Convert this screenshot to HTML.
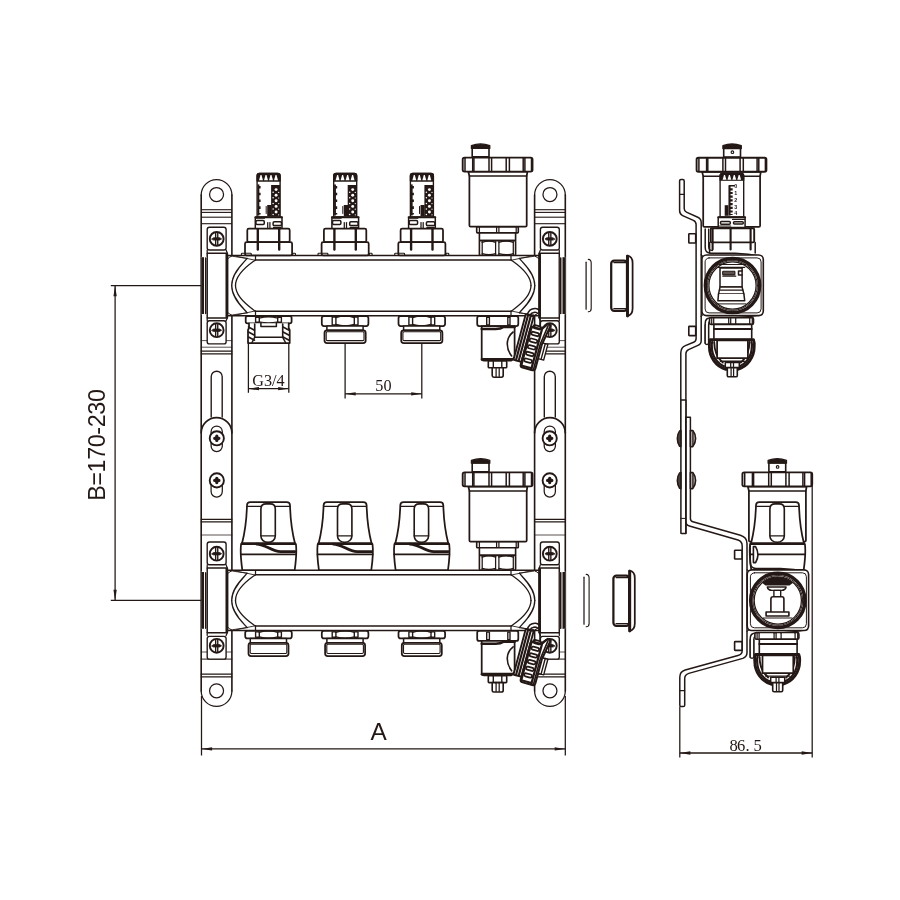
<!DOCTYPE html>
<html lang="en">
<head>
<meta charset="utf-8">
<title>Manifold dimensions</title>
<style>
html,body{margin:0;padding:0;background:#fff;}
body{width:900px;height:900px;overflow:hidden;}
svg{display:block;will-change:transform;-webkit-font-smoothing:antialiased;}
svg text{fill:#231815;stroke:none;}
.sans{font-family:"Liberation Sans",sans-serif;}
.serif{font-family:"Liberation Serif",serif;}
</style>
</head>
<body>
<svg width="900" height="900" viewBox="0 0 900 900" fill="none" stroke="#231815" stroke-width="1.5" stroke-linecap="round" stroke-linejoin="round">
<rect x="0" y="0" width="900" height="900" fill="#fff" stroke="none"/>
<path d="M201.2,195 A15.35,15.35 0 0 1 231.9,195" stroke-width="1.25"/>
<path d="M201.2,691 A15.35,15.35 0 0 0 231.9,691" stroke-width="1.25"/>
<line x1="201.2" y1="195" x2="201.2" y2="691" stroke-width="1.62"/>
<line x1="231.9" y1="195" x2="231.9" y2="691" stroke-width="1.62"/>
<circle cx="216.55" cy="194.5" r="7" stroke-width="1.25"/>
<circle cx="216.55" cy="690.8" r="7" stroke-width="1.25"/>
<line x1="201.2" y1="209.7" x2="231.9" y2="209.7" stroke-width="1.12" stroke-linecap="butt"/>
<line x1="201.2" y1="212.4" x2="231.9" y2="212.4" stroke-width="1.12" stroke-linecap="butt"/>
<line x1="201.2" y1="217.2" x2="231.9" y2="217.2" stroke-width="1.12" stroke-linecap="butt"/>
<line x1="201.2" y1="223.7" x2="231.9" y2="223.7" stroke-width="1.12" stroke-linecap="butt"/>
<line x1="201.2" y1="340.6" x2="231.9" y2="340.6" stroke-width="0.75"/>
<line x1="201.2" y1="347.2" x2="231.9" y2="347.2" stroke-width="0.75"/>
<line x1="201.2" y1="351.1" x2="231.9" y2="351.1" stroke-width="1.25"/>
<line x1="201.2" y1="353.9" x2="231.9" y2="353.9" stroke-width="1.25"/>
<path d="M211.2,417 V376.7 A5.5,5.5 0 0 1 222.2,376.7 V417" stroke-width="1.38"/>
<path d="M201.2,433 A15.35,15.35 0 0 1 231.9,433" stroke-width="1.62"/>
<path d="M211.1,431.6 A5.6,5.6 0 0 1 222.3,431.6 V446.1 A5.6,5.6 0 0 1 211.1,446.1 Z" stroke-width="1.25"/>
<circle cx="216.8" cy="438.3" r="7.1" stroke-width="1.88" fill="#fff"/>
<path d="M214.7,438.3 H218.9 M216.8,436.2 V440.4" stroke-width="3.25"/>
<path d="M211.1,480.4 A5.6,5.6 0 0 1 222.3,480.4 V491.6 A5.6,5.6 0 0 1 211.1,491.6 Z" stroke-width="1.25"/>
<circle cx="216.8" cy="480.4" r="7.1" stroke-width="1.88" fill="#fff"/>
<path d="M214.7,480.4 H218.9 M216.8,478.3 V482.5" stroke-width="3.25"/>
<line x1="201.2" y1="519.3" x2="231.9" y2="519.3" stroke-width="1.25"/>
<line x1="201.2" y1="521.9" x2="231.9" y2="521.9" stroke-width="1.25"/>
<line x1="201.2" y1="535" x2="231.9" y2="535" stroke-width="0.75"/>
<line x1="201.2" y1="652" x2="231.9" y2="652" stroke-width="0.75"/>
<line x1="201.2" y1="659.1" x2="231.9" y2="659.1" stroke-width="1"/>
<line x1="201.2" y1="674.2" x2="231.9" y2="674.2" stroke-width="1.25"/>
<line x1="201.2" y1="676.9" x2="231.9" y2="676.9" stroke-width="1.25"/>
<g transform="translate(766.5,0) scale(-1,1)">
<path d="M201.2,195 A15.35,15.35 0 0 1 231.9,195" stroke-width="1.25"/>
<path d="M201.2,691 A15.35,15.35 0 0 0 231.9,691" stroke-width="1.25"/>
<line x1="201.2" y1="195" x2="201.2" y2="691" stroke-width="1.62"/>
<line x1="231.9" y1="195" x2="231.9" y2="691" stroke-width="1.62"/>
<circle cx="216.55" cy="194.5" r="7" stroke-width="1.25"/>
<circle cx="216.55" cy="690.8" r="7" stroke-width="1.25"/>
<line x1="201.2" y1="209.7" x2="231.9" y2="209.7" stroke-width="1.12" stroke-linecap="butt"/>
<line x1="201.2" y1="212.4" x2="231.9" y2="212.4" stroke-width="1.12" stroke-linecap="butt"/>
<line x1="201.2" y1="217.2" x2="231.9" y2="217.2" stroke-width="1.12" stroke-linecap="butt"/>
<line x1="201.2" y1="223.7" x2="231.9" y2="223.7" stroke-width="1.12" stroke-linecap="butt"/>
<line x1="201.2" y1="340.6" x2="231.9" y2="340.6" stroke-width="0.75"/>
<line x1="201.2" y1="347.2" x2="231.9" y2="347.2" stroke-width="0.75"/>
<line x1="201.2" y1="351.1" x2="231.9" y2="351.1" stroke-width="1.25"/>
<line x1="201.2" y1="353.9" x2="231.9" y2="353.9" stroke-width="1.25"/>
<path d="M211.2,417 V376.7 A5.5,5.5 0 0 1 222.2,376.7 V417" stroke-width="1.38"/>
<path d="M201.2,433 A15.35,15.35 0 0 1 231.9,433" stroke-width="1.62"/>
<path d="M211.1,431.6 A5.6,5.6 0 0 1 222.3,431.6 V446.1 A5.6,5.6 0 0 1 211.1,446.1 Z" stroke-width="1.25"/>
<circle cx="216.8" cy="438.3" r="7.1" stroke-width="1.88" fill="#fff"/>
<path d="M214.7,438.3 H218.9 M216.8,436.2 V440.4" stroke-width="3.25"/>
<path d="M211.1,480.4 A5.6,5.6 0 0 1 222.3,480.4 V491.6 A5.6,5.6 0 0 1 211.1,491.6 Z" stroke-width="1.25"/>
<circle cx="216.8" cy="480.4" r="7.1" stroke-width="1.88" fill="#fff"/>
<path d="M214.7,480.4 H218.9 M216.8,478.3 V482.5" stroke-width="3.25"/>
<line x1="201.2" y1="519.3" x2="231.9" y2="519.3" stroke-width="1.25"/>
<line x1="201.2" y1="521.9" x2="231.9" y2="521.9" stroke-width="1.25"/>
<line x1="201.2" y1="535" x2="231.9" y2="535" stroke-width="0.75"/>
<line x1="201.2" y1="652" x2="231.9" y2="652" stroke-width="0.75"/>
<line x1="201.2" y1="659.1" x2="231.9" y2="659.1" stroke-width="1"/>
<line x1="201.2" y1="674.2" x2="231.9" y2="674.2" stroke-width="1.25"/>
<line x1="201.2" y1="676.9" x2="231.9" y2="676.9" stroke-width="1.25"/>
</g>
<path d="M227.5,255.5 H539.5 V315.7 H227.5 Z" stroke-width="1.62" fill="#fff"/>
<line x1="255.5" y1="260" x2="511" y2="260" stroke-width="1.5"/>
<line x1="255.5" y1="311.2" x2="511" y2="311.2" stroke-width="1.5"/>
<line x1="255.5" y1="255.5" x2="255.5" y2="260" stroke-width="1.25"/>
<line x1="255.5" y1="311.2" x2="255.5" y2="315.7" stroke-width="1.25"/>
<line x1="511" y1="255.5" x2="511" y2="260" stroke-width="1.25"/>
<line x1="511" y1="311.2" x2="511" y2="315.7" stroke-width="1.25"/>
<path d="M247.1,312.8 C244,308.6 231.7,298.7 231.7,285.6" stroke-width="1.31"/>
<path d="M255.1,311 C250.5,307.6 235.5,298.2 235.5,285.6" stroke-width="1.31"/>
<path d="M232.6,314.9 L247.1,312.8" stroke-width="0.88"/>
<path d="M236,315 L255.1,311" stroke-width="0.88"/>
<path d="M228,312.6 Q229,314.4 231.6,315" stroke-width="1"/>
<path d="M247.1,258.4 C244,262.6 231.7,272.5 231.7,285.6" stroke-width="1.31"/>
<path d="M255.1,260.2 C250.5,263.6 235.5,273 235.5,285.6" stroke-width="1.31"/>
<path d="M232.6,256.3 L247.1,258.4" stroke-width="0.88"/>
<path d="M236,256.2 L255.1,260.2" stroke-width="0.88"/>
<path d="M228,258.6 Q229,256.8 231.6,256.2" stroke-width="1"/>
<g transform="translate(766.5,0) scale(-1,1)">
<path d="M247.1,312.8 C244,308.6 231.7,298.7 231.7,285.6" stroke-width="1.31"/>
<path d="M255.1,311 C250.5,307.6 235.5,298.2 235.5,285.6" stroke-width="1.31"/>
<path d="M232.6,314.9 L247.1,312.8" stroke-width="0.88"/>
<path d="M236,315 L255.1,311" stroke-width="0.88"/>
<path d="M228,312.6 Q229,314.4 231.6,315" stroke-width="1"/>
<path d="M247.1,258.4 C244,262.6 231.7,272.5 231.7,285.6" stroke-width="1.31"/>
<path d="M255.1,260.2 C250.5,263.6 235.5,273 235.5,285.6" stroke-width="1.31"/>
<path d="M232.6,256.3 L247.1,258.4" stroke-width="0.88"/>
<path d="M236,256.2 L255.1,260.2" stroke-width="0.88"/>
<path d="M228,258.6 Q229,256.8 231.6,256.2" stroke-width="1"/>
</g>
<path d="M227.5,570.3 H539.5 V630.5 H227.5 Z" stroke-width="1.62" fill="#fff"/>
<line x1="255.5" y1="574.8" x2="511" y2="574.8" stroke-width="1.5"/>
<line x1="255.5" y1="626" x2="511" y2="626" stroke-width="1.5"/>
<line x1="255.5" y1="570.3" x2="255.5" y2="574.8" stroke-width="1.25"/>
<line x1="255.5" y1="626" x2="255.5" y2="630.5" stroke-width="1.25"/>
<line x1="511" y1="570.3" x2="511" y2="574.8" stroke-width="1.25"/>
<line x1="511" y1="626" x2="511" y2="630.5" stroke-width="1.25"/>
<path d="M247.1,627.6 C244,623.4 231.7,613.5 231.7,600.4" stroke-width="1.31"/>
<path d="M255.1,625.8 C250.5,622.4 235.5,613 235.5,600.4" stroke-width="1.31"/>
<path d="M232.6,629.7 L247.1,627.6" stroke-width="0.88"/>
<path d="M236,629.8 L255.1,625.8" stroke-width="0.88"/>
<path d="M228,627.4 Q229,629.2 231.6,629.8" stroke-width="1"/>
<path d="M247.1,573.2 C244,577.4 231.7,587.3 231.7,600.4" stroke-width="1.31"/>
<path d="M255.1,575 C250.5,578.4 235.5,587.8 235.5,600.4" stroke-width="1.31"/>
<path d="M232.6,571.1 L247.1,573.2" stroke-width="0.88"/>
<path d="M236,571 L255.1,575" stroke-width="0.88"/>
<path d="M228,573.4 Q229,571.6 231.6,571" stroke-width="1"/>
<g transform="translate(766.5,0) scale(-1,1)">
<path d="M247.1,627.6 C244,623.4 231.7,613.5 231.7,600.4" stroke-width="1.31"/>
<path d="M255.1,625.8 C250.5,622.4 235.5,613 235.5,600.4" stroke-width="1.31"/>
<path d="M232.6,629.7 L247.1,627.6" stroke-width="0.88"/>
<path d="M236,629.8 L255.1,625.8" stroke-width="0.88"/>
<path d="M228,627.4 Q229,629.2 231.6,629.8" stroke-width="1"/>
<path d="M247.1,573.2 C244,577.4 231.7,587.3 231.7,600.4" stroke-width="1.31"/>
<path d="M255.1,575 C250.5,578.4 235.5,587.8 235.5,600.4" stroke-width="1.31"/>
<path d="M232.6,571.1 L247.1,573.2" stroke-width="0.88"/>
<path d="M236,571 L255.1,575" stroke-width="0.88"/>
<path d="M228,573.4 Q229,571.6 231.6,571" stroke-width="1"/>
</g>
<rect x="207.2" y="227.2" width="18.9" height="22.8" rx="2.2" stroke-width="1.38" fill="#fff"/>
<rect x="207.2" y="320.8" width="18.9" height="23.1" rx="2.2" stroke-width="1.38" fill="#fff"/>
<circle cx="216.7" cy="238.9" r="6.9" stroke-width="1.94" fill="#fff"/>
<path d="M211.8,238.9 L213.7,237.7 H219.7 L221.6,238.9 L219.7,240.1 H213.7 Z" stroke-width="0.75" fill="#231815"/>
<line x1="215.65" y1="232.7" x2="215.65" y2="245.1" stroke-width="1.38"/>
<line x1="217.75" y1="232.7" x2="217.75" y2="245.1" stroke-width="1.38"/>
<circle cx="216.7" cy="330.2" r="6.9" stroke-width="1.94" fill="#fff"/>
<path d="M211.8,330.2 L213.7,329 H219.7 L221.6,330.2 L219.7,331.4 H213.7 Z" stroke-width="0.75" fill="#231815"/>
<line x1="215.65" y1="324" x2="215.65" y2="336.4" stroke-width="1.38"/>
<line x1="217.75" y1="324" x2="217.75" y2="336.4" stroke-width="1.38"/>
<rect x="207.2" y="253.3" width="20.1" height="64.6" stroke-width="1.5" fill="#fff"/>
<line x1="226.8" y1="253.3" x2="226.8" y2="317.9" stroke-width="2.62" stroke-linecap="butt"/>
<line x1="207.2" y1="250" x2="207.2" y2="253.3" stroke-width="1.25"/>
<line x1="226.1" y1="250" x2="227.3" y2="253.3" stroke-width="1.25"/>
<line x1="207.2" y1="317.9" x2="207.2" y2="320.8" stroke-width="1.25"/>
<line x1="227.3" y1="317.9" x2="226.1" y2="320.8" stroke-width="1.25"/>
<rect x="201.2" y="256.9" width="5.4" height="57.4" stroke-width="0.01" fill="#fff"/>
<line x1="202.6" y1="257.2" x2="202.6" y2="314" stroke-width="2.88" stroke-linecap="butt"/>
<line x1="205.8" y1="258" x2="205.8" y2="313.4" stroke-width="1.62"/>
<rect x="207.2" y="542" width="18.9" height="22.8" rx="2.2" stroke-width="1.38" fill="#fff"/>
<rect x="207.2" y="636.4" width="18.9" height="22.7" rx="2.2" stroke-width="1.38" fill="#fff"/>
<circle cx="216.7" cy="553.7" r="6.9" stroke-width="1.94" fill="#fff"/>
<path d="M211.8,553.7 L213.7,552.5 H219.7 L221.6,553.7 L219.7,554.9 H213.7 Z" stroke-width="0.75" fill="#231815"/>
<line x1="215.65" y1="547.5" x2="215.65" y2="559.9" stroke-width="1.38"/>
<line x1="217.75" y1="547.5" x2="217.75" y2="559.9" stroke-width="1.38"/>
<circle cx="216.7" cy="645.8" r="6.9" stroke-width="1.94" fill="#fff"/>
<path d="M211.8,645.8 L213.7,644.6 H219.7 L221.6,645.8 L219.7,647 H213.7 Z" stroke-width="0.75" fill="#231815"/>
<line x1="215.65" y1="639.6" x2="215.65" y2="652" stroke-width="1.38"/>
<line x1="217.75" y1="639.6" x2="217.75" y2="652" stroke-width="1.38"/>
<rect x="207.2" y="568.1" width="20.1" height="64.6" stroke-width="1.5" fill="#fff"/>
<line x1="226.8" y1="568.1" x2="226.8" y2="632.7" stroke-width="2.62" stroke-linecap="butt"/>
<line x1="207.2" y1="564.8" x2="207.2" y2="568.1" stroke-width="1.25"/>
<line x1="226.1" y1="564.8" x2="227.3" y2="568.1" stroke-width="1.25"/>
<line x1="207.2" y1="632.7" x2="207.2" y2="635.6" stroke-width="1.25"/>
<line x1="227.3" y1="632.7" x2="226.1" y2="635.6" stroke-width="1.25"/>
<rect x="201.2" y="571.7" width="5.4" height="57.4" stroke-width="0.01" fill="#fff"/>
<line x1="202.6" y1="572" x2="202.6" y2="628.8" stroke-width="2.88" stroke-linecap="butt"/>
<line x1="205.8" y1="572.8" x2="205.8" y2="628.2" stroke-width="1.62"/>
<g transform="translate(766.5,0) scale(-1,1)">
<rect x="207.2" y="227.2" width="18.9" height="22.8" rx="2.2" stroke-width="1.38" fill="#fff"/>
<rect x="207.2" y="320.8" width="18.9" height="23.1" rx="2.2" stroke-width="1.38" fill="#fff"/>
<circle cx="216.7" cy="238.9" r="6.9" stroke-width="1.94" fill="#fff"/>
<path d="M211.8,238.9 L213.7,237.7 H219.7 L221.6,238.9 L219.7,240.1 H213.7 Z" stroke-width="0.75" fill="#231815"/>
<line x1="215.65" y1="232.7" x2="215.65" y2="245.1" stroke-width="1.38"/>
<line x1="217.75" y1="232.7" x2="217.75" y2="245.1" stroke-width="1.38"/>
<circle cx="216.7" cy="330.2" r="6.9" stroke-width="1.94" fill="#fff"/>
<path d="M211.8,330.2 L213.7,329 H219.7 L221.6,330.2 L219.7,331.4 H213.7 Z" stroke-width="0.75" fill="#231815"/>
<line x1="215.65" y1="324" x2="215.65" y2="336.4" stroke-width="1.38"/>
<line x1="217.75" y1="324" x2="217.75" y2="336.4" stroke-width="1.38"/>
<rect x="207.2" y="253.3" width="20.1" height="64.6" stroke-width="1.5" fill="#fff"/>
<line x1="226.8" y1="253.3" x2="226.8" y2="317.9" stroke-width="2.62" stroke-linecap="butt"/>
<line x1="207.2" y1="250" x2="207.2" y2="253.3" stroke-width="1.25"/>
<line x1="226.1" y1="250" x2="227.3" y2="253.3" stroke-width="1.25"/>
<line x1="207.2" y1="317.9" x2="207.2" y2="320.8" stroke-width="1.25"/>
<line x1="227.3" y1="317.9" x2="226.1" y2="320.8" stroke-width="1.25"/>
<rect x="201.2" y="256.9" width="5.4" height="57.4" stroke-width="0.01" fill="#fff"/>
<line x1="202.6" y1="257.2" x2="202.6" y2="314" stroke-width="2.88" stroke-linecap="butt"/>
<line x1="205.8" y1="258" x2="205.8" y2="313.4" stroke-width="1.62"/>
<rect x="207.2" y="542" width="18.9" height="22.8" rx="2.2" stroke-width="1.38" fill="#fff"/>
<rect x="207.2" y="636.4" width="18.9" height="22.7" rx="2.2" stroke-width="1.38" fill="#fff"/>
<circle cx="216.7" cy="553.7" r="6.9" stroke-width="1.94" fill="#fff"/>
<path d="M211.8,553.7 L213.7,552.5 H219.7 L221.6,553.7 L219.7,554.9 H213.7 Z" stroke-width="0.75" fill="#231815"/>
<line x1="215.65" y1="547.5" x2="215.65" y2="559.9" stroke-width="1.38"/>
<line x1="217.75" y1="547.5" x2="217.75" y2="559.9" stroke-width="1.38"/>
<circle cx="216.7" cy="645.8" r="6.9" stroke-width="1.94" fill="#fff"/>
<path d="M211.8,645.8 L213.7,644.6 H219.7 L221.6,645.8 L219.7,647 H213.7 Z" stroke-width="0.75" fill="#231815"/>
<line x1="215.65" y1="639.6" x2="215.65" y2="652" stroke-width="1.38"/>
<line x1="217.75" y1="639.6" x2="217.75" y2="652" stroke-width="1.38"/>
<rect x="207.2" y="568.1" width="20.1" height="64.6" stroke-width="1.5" fill="#fff"/>
<line x1="226.8" y1="568.1" x2="226.8" y2="632.7" stroke-width="2.62" stroke-linecap="butt"/>
<line x1="207.2" y1="564.8" x2="207.2" y2="568.1" stroke-width="1.25"/>
<line x1="226.1" y1="564.8" x2="227.3" y2="568.1" stroke-width="1.25"/>
<line x1="207.2" y1="632.7" x2="207.2" y2="635.6" stroke-width="1.25"/>
<line x1="227.3" y1="632.7" x2="226.1" y2="635.6" stroke-width="1.25"/>
<rect x="201.2" y="571.7" width="5.4" height="57.4" stroke-width="0.01" fill="#fff"/>
<line x1="202.6" y1="572" x2="202.6" y2="628.8" stroke-width="2.88" stroke-linecap="butt"/>
<line x1="205.8" y1="572.8" x2="205.8" y2="628.2" stroke-width="1.62"/>
</g>
<path d="M257.1,216.3 V175.9 Q257.1,173.4 259.6,173.4 H277.6 Q280.1,173.4 280.1,175.9 V216.3" stroke-width="1.38" fill="#fff"/>
<path d="M257.1,181 V175.9 Q257.1,173.4 259.6,173.4 H277.6 Q280.1,173.4 280.1,175.9 V181 Z" stroke-width="1.25" fill="#231815"/>
<path d="M259.05,180.3 L260.5,175 H261.5 L262.95,180.3 Z" fill="#fff" stroke="none"/>
<path d="M264.05,180.3 L265.5,175 H266.5 L267.95,180.3 Z" fill="#fff" stroke="none"/>
<path d="M269.05,180.3 L270.5,175 H271.5 L272.95,180.3 Z" fill="#fff" stroke="none"/>
<path d="M274.05,180.3 L275.5,175 H276.5 L277.95,180.3 Z" fill="#fff" stroke="none"/>
<line x1="258.4" y1="184.4" x2="258.4" y2="215.5" stroke-width="1.88" stroke-linecap="butt"/>
<line x1="259.6" y1="185.9" x2="259.6" y2="214.5" stroke-width="2" stroke-dasharray="2.6 4.2" stroke-linecap="butt"/>
<rect x="271.1" y="185" width="9" height="31.3" fill="#231815" stroke="none"/>
<circle cx="276.1" cy="189.6" r="1.45" fill="#fff" stroke="none"/>
<circle cx="273.1" cy="192.2" r="0.75" fill="#fff" stroke="none"/>
<circle cx="278.7" cy="192.4" r="0.6" fill="#fff" stroke="none"/>
<circle cx="276.1" cy="195.2" r="1.45" fill="#fff" stroke="none"/>
<circle cx="273.1" cy="197.8" r="0.75" fill="#fff" stroke="none"/>
<circle cx="278.7" cy="198" r="0.6" fill="#fff" stroke="none"/>
<circle cx="276.1" cy="200.8" r="1.45" fill="#fff" stroke="none"/>
<circle cx="273.1" cy="203.4" r="0.75" fill="#fff" stroke="none"/>
<circle cx="278.7" cy="203.6" r="0.6" fill="#fff" stroke="none"/>
<circle cx="276.1" cy="206.4" r="1.45" fill="#fff" stroke="none"/>
<circle cx="273.1" cy="209" r="0.75" fill="#fff" stroke="none"/>
<circle cx="278.7" cy="209.2" r="0.6" fill="#fff" stroke="none"/>
<circle cx="276.1" cy="212" r="1.45" fill="#fff" stroke="none"/>
<circle cx="273.1" cy="214.6" r="0.75" fill="#fff" stroke="none"/>
<circle cx="278.7" cy="214.8" r="0.6" fill="#fff" stroke="none"/>
<rect x="267.2" y="205" width="4.2" height="11" fill="#231815" stroke="none"/>
<line x1="266.2" y1="206.5" x2="266.2" y2="213.5" stroke-width="1"/>
<rect x="255.3" y="216.9" width="26.7" height="12.5" rx="1.4" stroke-width="1.5" fill="#fff"/>
<line x1="255.3" y1="217.2" x2="282" y2="217.2" stroke-width="2"/>
<rect x="255.9" y="220.6" width="8.4" height="3.8" rx="1.2" stroke-width="1.5"/>
<rect x="273.1" y="221.8" width="8.4" height="3.8" rx="1.2" stroke-width="1.5"/>
<line x1="256" y1="218.3" x2="264.5" y2="218.3" stroke-width="1.12"/>
<line x1="273.5" y1="227.4" x2="281" y2="227.4" stroke-width="1.12"/>
<line x1="267.7" y1="222.5" x2="267.7" y2="229" stroke-width="1.25"/>
<line x1="269.9" y1="222.5" x2="269.9" y2="229" stroke-width="1.25"/>
<rect x="247.3" y="228.6" width="42.4" height="13.6" rx="1.6" stroke-width="1.75" fill="#fff"/>
<rect x="245" y="242.2" width="47.1" height="13.1" rx="1.6" stroke-width="1.75" fill="#fff"/>
<line x1="257.8" y1="229.3" x2="257.8" y2="249.5" stroke-width="2.38"/>
<line x1="279.2" y1="229.3" x2="279.2" y2="249.5" stroke-width="2.38"/>
<rect x="241.4" y="253.2" width="9.9" height="2.3" rx="0.8" stroke-width="1.12"/>
<rect x="292.7" y="253.3" width="2.8" height="2.2" rx="0.8" stroke-width="1.12"/>
<path d="M241.9,544 C245,532 246.7,516 247,505.2 Q247.1,502 250.3,502 H286.7 Q289.9,502 290,505.2 C290.3,516 292,532 295.1,544 Z" stroke-width="1.75" fill="#fff"/>
<line x1="247.2" y1="506.4" x2="289.8" y2="506.4" stroke-width="1.25"/>
<path d="M241.1,544 C240.3,550 240.9,560 242.3,570 H294.7 C296.1,560 296.7,550 295.9,544 Z" stroke-width="1.75" fill="#fff"/>
<line x1="241.9" y1="543.4" x2="294.9" y2="543.4" stroke-width="2.5"/>
<line x1="240.9" y1="554.4" x2="296.1" y2="554.4" stroke-width="1.62"/>
<path d="M256.5,544 C265.5,544 271.5,551.6 280.5,551.6 H295.1" stroke-width="2.75"/>
<path d="M260.9,509 Q260.9,503.9 266.1,503.9 H270.3 Q275.3,503.9 275.3,509 V536 A7.2,6.4 0 0 1 260.9,536 Z" stroke-width="1.62" fill="#fff"/>
<line x1="260.9" y1="535.8" x2="275.3" y2="535.8" stroke-width="1.25"/>
<path d="M333.7,216.3 V175.9 Q333.7,173.4 336.2,173.4 H354.2 Q356.7,173.4 356.7,175.9 V216.3" stroke-width="1.38" fill="#fff"/>
<path d="M333.7,181 V175.9 Q333.7,173.4 336.2,173.4 H354.2 Q356.7,173.4 356.7,175.9 V181 Z" stroke-width="1.25" fill="#231815"/>
<path d="M335.65,180.3 L337.1,175 H338.1 L339.55,180.3 Z" fill="#fff" stroke="none"/>
<path d="M340.65,180.3 L342.1,175 H343.1 L344.55,180.3 Z" fill="#fff" stroke="none"/>
<path d="M345.65,180.3 L347.1,175 H348.1 L349.55,180.3 Z" fill="#fff" stroke="none"/>
<path d="M350.65,180.3 L352.1,175 H353.1 L354.55,180.3 Z" fill="#fff" stroke="none"/>
<line x1="335" y1="184.4" x2="335" y2="215.5" stroke-width="1.88" stroke-linecap="butt"/>
<line x1="336.2" y1="185.9" x2="336.2" y2="214.5" stroke-width="2" stroke-dasharray="2.6 4.2" stroke-linecap="butt"/>
<rect x="347.7" y="185" width="9" height="31.3" fill="#231815" stroke="none"/>
<circle cx="352.7" cy="189.6" r="1.45" fill="#fff" stroke="none"/>
<circle cx="349.7" cy="192.2" r="0.75" fill="#fff" stroke="none"/>
<circle cx="355.3" cy="192.4" r="0.6" fill="#fff" stroke="none"/>
<circle cx="352.7" cy="195.2" r="1.45" fill="#fff" stroke="none"/>
<circle cx="349.7" cy="197.8" r="0.75" fill="#fff" stroke="none"/>
<circle cx="355.3" cy="198" r="0.6" fill="#fff" stroke="none"/>
<circle cx="352.7" cy="200.8" r="1.45" fill="#fff" stroke="none"/>
<circle cx="349.7" cy="203.4" r="0.75" fill="#fff" stroke="none"/>
<circle cx="355.3" cy="203.6" r="0.6" fill="#fff" stroke="none"/>
<circle cx="352.7" cy="206.4" r="1.45" fill="#fff" stroke="none"/>
<circle cx="349.7" cy="209" r="0.75" fill="#fff" stroke="none"/>
<circle cx="355.3" cy="209.2" r="0.6" fill="#fff" stroke="none"/>
<circle cx="352.7" cy="212" r="1.45" fill="#fff" stroke="none"/>
<circle cx="349.7" cy="214.6" r="0.75" fill="#fff" stroke="none"/>
<circle cx="355.3" cy="214.8" r="0.6" fill="#fff" stroke="none"/>
<rect x="343.8" y="205" width="4.2" height="11" fill="#231815" stroke="none"/>
<line x1="342.8" y1="206.5" x2="342.8" y2="213.5" stroke-width="1"/>
<rect x="331.9" y="216.9" width="26.7" height="12.5" rx="1.4" stroke-width="1.5" fill="#fff"/>
<line x1="331.9" y1="217.2" x2="358.6" y2="217.2" stroke-width="2"/>
<rect x="332.5" y="220.6" width="8.4" height="3.8" rx="1.2" stroke-width="1.5"/>
<rect x="349.7" y="221.8" width="8.4" height="3.8" rx="1.2" stroke-width="1.5"/>
<line x1="332.6" y1="218.3" x2="341.1" y2="218.3" stroke-width="1.12"/>
<line x1="350.1" y1="227.4" x2="357.6" y2="227.4" stroke-width="1.12"/>
<line x1="344.3" y1="222.5" x2="344.3" y2="229" stroke-width="1.25"/>
<line x1="346.5" y1="222.5" x2="346.5" y2="229" stroke-width="1.25"/>
<rect x="323.9" y="228.6" width="42.4" height="13.6" rx="1.6" stroke-width="1.75" fill="#fff"/>
<rect x="321.6" y="242.2" width="47.1" height="13.1" rx="1.6" stroke-width="1.75" fill="#fff"/>
<line x1="334.4" y1="229.3" x2="334.4" y2="249.5" stroke-width="2.38"/>
<line x1="355.8" y1="229.3" x2="355.8" y2="249.5" stroke-width="2.38"/>
<rect x="318" y="253.2" width="9.9" height="2.3" rx="0.8" stroke-width="1.12"/>
<rect x="369.3" y="253.3" width="2.8" height="2.2" rx="0.8" stroke-width="1.12"/>
<path d="M318.5,544 C321.6,532 323.3,516 323.6,505.2 Q323.7,502 326.9,502 H363.3 Q366.5,502 366.6,505.2 C366.9,516 368.6,532 371.7,544 Z" stroke-width="1.75" fill="#fff"/>
<line x1="323.8" y1="506.4" x2="366.4" y2="506.4" stroke-width="1.25"/>
<path d="M317.7,544 C316.9,550 317.5,560 318.9,570 H371.3 C372.7,560 373.3,550 372.5,544 Z" stroke-width="1.75" fill="#fff"/>
<line x1="318.5" y1="543.4" x2="371.5" y2="543.4" stroke-width="2.5"/>
<line x1="317.5" y1="554.4" x2="372.7" y2="554.4" stroke-width="1.62"/>
<path d="M333.1,544 C342.1,544 348.1,551.6 357.1,551.6 H371.7" stroke-width="2.75"/>
<path d="M337.5,509 Q337.5,503.9 342.7,503.9 H346.9 Q351.9,503.9 351.9,509 V536 A7.2,6.4 0 0 1 337.5,536 Z" stroke-width="1.62" fill="#fff"/>
<line x1="337.5" y1="535.8" x2="351.9" y2="535.8" stroke-width="1.25"/>
<path d="M410.4,216.3 V175.9 Q410.4,173.4 412.9,173.4 H430.9 Q433.4,173.4 433.4,175.9 V216.3" stroke-width="1.38" fill="#fff"/>
<path d="M410.4,181 V175.9 Q410.4,173.4 412.9,173.4 H430.9 Q433.4,173.4 433.4,175.9 V181 Z" stroke-width="1.25" fill="#231815"/>
<path d="M412.35,180.3 L413.8,175 H414.8 L416.25,180.3 Z" fill="#fff" stroke="none"/>
<path d="M417.35,180.3 L418.8,175 H419.8 L421.25,180.3 Z" fill="#fff" stroke="none"/>
<path d="M422.35,180.3 L423.8,175 H424.8 L426.25,180.3 Z" fill="#fff" stroke="none"/>
<path d="M427.35,180.3 L428.8,175 H429.8 L431.25,180.3 Z" fill="#fff" stroke="none"/>
<line x1="411.7" y1="184.4" x2="411.7" y2="215.5" stroke-width="1.88" stroke-linecap="butt"/>
<line x1="412.9" y1="185.9" x2="412.9" y2="214.5" stroke-width="2" stroke-dasharray="2.6 4.2" stroke-linecap="butt"/>
<rect x="424.4" y="185" width="9" height="31.3" fill="#231815" stroke="none"/>
<circle cx="429.4" cy="189.6" r="1.45" fill="#fff" stroke="none"/>
<circle cx="426.4" cy="192.2" r="0.75" fill="#fff" stroke="none"/>
<circle cx="432" cy="192.4" r="0.6" fill="#fff" stroke="none"/>
<circle cx="429.4" cy="195.2" r="1.45" fill="#fff" stroke="none"/>
<circle cx="426.4" cy="197.8" r="0.75" fill="#fff" stroke="none"/>
<circle cx="432" cy="198" r="0.6" fill="#fff" stroke="none"/>
<circle cx="429.4" cy="200.8" r="1.45" fill="#fff" stroke="none"/>
<circle cx="426.4" cy="203.4" r="0.75" fill="#fff" stroke="none"/>
<circle cx="432" cy="203.6" r="0.6" fill="#fff" stroke="none"/>
<circle cx="429.4" cy="206.4" r="1.45" fill="#fff" stroke="none"/>
<circle cx="426.4" cy="209" r="0.75" fill="#fff" stroke="none"/>
<circle cx="432" cy="209.2" r="0.6" fill="#fff" stroke="none"/>
<circle cx="429.4" cy="212" r="1.45" fill="#fff" stroke="none"/>
<circle cx="426.4" cy="214.6" r="0.75" fill="#fff" stroke="none"/>
<circle cx="432" cy="214.8" r="0.6" fill="#fff" stroke="none"/>
<rect x="420.5" y="205" width="4.2" height="11" fill="#231815" stroke="none"/>
<line x1="419.5" y1="206.5" x2="419.5" y2="213.5" stroke-width="1"/>
<rect x="408.6" y="216.9" width="26.7" height="12.5" rx="1.4" stroke-width="1.5" fill="#fff"/>
<line x1="408.6" y1="217.2" x2="435.3" y2="217.2" stroke-width="2"/>
<rect x="409.2" y="220.6" width="8.4" height="3.8" rx="1.2" stroke-width="1.5"/>
<rect x="426.4" y="221.8" width="8.4" height="3.8" rx="1.2" stroke-width="1.5"/>
<line x1="409.3" y1="218.3" x2="417.8" y2="218.3" stroke-width="1.12"/>
<line x1="426.8" y1="227.4" x2="434.3" y2="227.4" stroke-width="1.12"/>
<line x1="421" y1="222.5" x2="421" y2="229" stroke-width="1.25"/>
<line x1="423.2" y1="222.5" x2="423.2" y2="229" stroke-width="1.25"/>
<rect x="400.6" y="228.6" width="42.4" height="13.6" rx="1.6" stroke-width="1.75" fill="#fff"/>
<rect x="398.3" y="242.2" width="47.1" height="13.1" rx="1.6" stroke-width="1.75" fill="#fff"/>
<line x1="411.1" y1="229.3" x2="411.1" y2="249.5" stroke-width="2.38"/>
<line x1="432.5" y1="229.3" x2="432.5" y2="249.5" stroke-width="2.38"/>
<rect x="394.7" y="253.2" width="9.9" height="2.3" rx="0.8" stroke-width="1.12"/>
<rect x="446" y="253.3" width="2.8" height="2.2" rx="0.8" stroke-width="1.12"/>
<path d="M395.2,544 C398.3,532 400,516 400.3,505.2 Q400.4,502 403.6,502 H440 Q443.2,502 443.3,505.2 C443.6,516 445.3,532 448.4,544 Z" stroke-width="1.75" fill="#fff"/>
<line x1="400.5" y1="506.4" x2="443.1" y2="506.4" stroke-width="1.25"/>
<path d="M394.4,544 C393.6,550 394.2,560 395.6,570 H448 C449.4,560 450,550 449.2,544 Z" stroke-width="1.75" fill="#fff"/>
<line x1="395.2" y1="543.4" x2="448.2" y2="543.4" stroke-width="2.5"/>
<line x1="394.2" y1="554.4" x2="449.4" y2="554.4" stroke-width="1.62"/>
<path d="M409.8,544 C418.8,544 424.8,551.6 433.8,551.6 H448.4" stroke-width="2.75"/>
<path d="M414.2,509 Q414.2,503.9 419.4,503.9 H423.6 Q428.6,503.9 428.6,509 V536 A7.2,6.4 0 0 1 414.2,536 Z" stroke-width="1.62" fill="#fff"/>
<line x1="414.2" y1="535.8" x2="428.6" y2="535.8" stroke-width="1.25"/>
<rect x="245.7" y="316" width="45.9" height="7.3" rx="1.8" stroke-width="1.75" fill="#fff"/>
<rect x="255.6" y="317.3" width="3.7" height="4.9" stroke-width="1.38"/>
<rect x="277.7" y="317.3" width="3.7" height="4.9" stroke-width="1.38"/>
<path d="M259.3,318.2 Q268.5,315.6 277.7,318.2" stroke-width="1.25"/>
<path d="M259.3,322 Q268.5,324 277.7,322" stroke-width="1"/>
<path d="M249,323.3 V328 L248,330 V343 H289.7 V330 L288.7,328 V323.3" stroke-width="1.75" fill="#fff"/>
<path d="M254.7,324 V337.3 H282.7 V324" stroke-width="1.62"/>
<path d="M254.7,337.3 L252,342.5 M282.7,337.3 L285.5,342.5" stroke-width="1.5"/>
<path d="M260.9,322.6 V326.4 H276.4 V322.6" stroke-width="1.5"/>
<line x1="248.5" y1="327" x2="254.5" y2="330.2" stroke-width="1.62"/>
<line x1="248.5" y1="332" x2="254.5" y2="335.2" stroke-width="1.62"/>
<line x1="248.5" y1="337" x2="254.5" y2="340.2" stroke-width="1.62"/>
<line x1="283.1" y1="327" x2="289.1" y2="330.2" stroke-width="1.62"/>
<line x1="283.1" y1="332" x2="289.1" y2="335.2" stroke-width="1.62"/>
<line x1="283.1" y1="337" x2="289.1" y2="340.2" stroke-width="1.62"/>
<rect x="321.8" y="316" width="46.6" height="10" rx="2.2" stroke-width="1.75" fill="#fff"/>
<rect x="332.2" y="317.1" width="3.7" height="7.8" stroke-width="1.38"/>
<rect x="354.3" y="317.1" width="3.7" height="7.8" stroke-width="1.38"/>
<path d="M335.9,317.5 Q345.1,314.7 354.3,317.5" stroke-width="1.38"/>
<path d="M335.9,324.5 Q345.1,327.3 354.3,324.5" stroke-width="1.38"/>
<rect x="326.9" y="326" width="36.2" height="4.3" stroke-width="1.5" fill="#fff"/>
<rect x="324.5" y="330.3" width="41.2" height="12.9" rx="2.6" stroke-width="1.75" fill="#fff"/>
<rect x="326.2" y="331.7" width="37.8" height="8.9" rx="1.2" stroke-width="1.12"/>
<rect x="398.5" y="316" width="46.6" height="10" rx="2.2" stroke-width="1.75" fill="#fff"/>
<rect x="408.9" y="317.1" width="3.7" height="7.8" stroke-width="1.38"/>
<rect x="431" y="317.1" width="3.7" height="7.8" stroke-width="1.38"/>
<path d="M412.6,317.5 Q421.8,314.7 431,317.5" stroke-width="1.38"/>
<path d="M412.6,324.5 Q421.8,327.3 431,324.5" stroke-width="1.38"/>
<rect x="403.6" y="326" width="36.2" height="4.3" stroke-width="1.5" fill="#fff"/>
<rect x="401.2" y="330.3" width="41.2" height="12.9" rx="2.6" stroke-width="1.75" fill="#fff"/>
<rect x="402.9" y="331.7" width="37.8" height="8.9" rx="1.2" stroke-width="1.12"/>
<rect x="245.2" y="630.8" width="46.6" height="7.6" rx="2.2" stroke-width="1.75" fill="#fff"/>
<rect x="255.6" y="631.9" width="3.7" height="5.4" stroke-width="1.38"/>
<rect x="277.7" y="631.9" width="3.7" height="5.4" stroke-width="1.38"/>
<path d="M259.3,632.3 Q268.5,629.5 277.7,632.3" stroke-width="1.38"/>
<path d="M259.3,636.9 Q268.5,639.7 277.7,636.9" stroke-width="1.38"/>
<rect x="250.3" y="638.4" width="36.2" height="4.4" stroke-width="1.5" fill="#fff"/>
<rect x="248.5" y="642.8" width="40" height="13.3" rx="2.6" stroke-width="1.75" fill="#fff"/>
<rect x="250.2" y="644.2" width="36.6" height="9.3" rx="1.2" stroke-width="1.12"/>
<rect x="321.8" y="630.8" width="46.6" height="7.6" rx="2.2" stroke-width="1.75" fill="#fff"/>
<rect x="332.2" y="631.9" width="3.7" height="5.4" stroke-width="1.38"/>
<rect x="354.3" y="631.9" width="3.7" height="5.4" stroke-width="1.38"/>
<path d="M335.9,632.3 Q345.1,629.5 354.3,632.3" stroke-width="1.38"/>
<path d="M335.9,636.9 Q345.1,639.7 354.3,636.9" stroke-width="1.38"/>
<rect x="326.9" y="638.4" width="36.2" height="4.4" stroke-width="1.5" fill="#fff"/>
<rect x="325.1" y="642.8" width="40" height="13.3" rx="2.6" stroke-width="1.75" fill="#fff"/>
<rect x="326.8" y="644.2" width="36.6" height="9.3" rx="1.2" stroke-width="1.12"/>
<rect x="398.5" y="630.8" width="46.6" height="7.6" rx="2.2" stroke-width="1.75" fill="#fff"/>
<rect x="408.9" y="631.9" width="3.7" height="5.4" stroke-width="1.38"/>
<rect x="431" y="631.9" width="3.7" height="5.4" stroke-width="1.38"/>
<path d="M412.6,632.3 Q421.8,629.5 431,632.3" stroke-width="1.38"/>
<path d="M412.6,636.9 Q421.8,639.7 431,636.9" stroke-width="1.38"/>
<rect x="403.6" y="638.4" width="36.2" height="4.4" stroke-width="1.5" fill="#fff"/>
<rect x="401.8" y="642.8" width="40" height="13.3" rx="2.6" stroke-width="1.75" fill="#fff"/>
<rect x="403.5" y="644.2" width="36.6" height="9.3" rx="1.2" stroke-width="1.12"/>
<rect x="476.7" y="226.7" width="41.6" height="6.2" rx="0.8" stroke-width="1.62" fill="#fff"/>
<line x1="479.4" y1="227" x2="479.4" y2="232.6" stroke-width="1.25"/>
<line x1="516.2" y1="227" x2="516.2" y2="232.6" stroke-width="1.25"/>
<line x1="496.6" y1="227" x2="496.6" y2="232.6" stroke-width="1.25"/>
<line x1="498.9" y1="227" x2="498.9" y2="232.6" stroke-width="1.25"/>
<rect x="479.4" y="232.9" width="36.2" height="7.7" stroke-width="1.62" fill="#fff"/>
<rect x="479.4" y="240.6" width="36.2" height="14.7" rx="1" stroke-width="1.62" fill="#fff"/>
<line x1="482.2" y1="241.5" x2="482.2" y2="254.6" stroke-width="1.25"/>
<line x1="513.3" y1="241.5" x2="513.3" y2="254.6" stroke-width="1.25"/>
<line x1="495.6" y1="241.5" x2="495.6" y2="254.6" stroke-width="1.25"/>
<line x1="498.9" y1="241.5" x2="498.9" y2="254.6" stroke-width="1.25"/>
<path d="M482.2,242.4 Q488.9,239.8 495.6,242.4 M498.9,242.4 Q506.1,239.8 513.3,242.4" stroke-width="1.25"/>
<path d="M482.2,253.6 Q488.9,255.8 495.6,253.6 M498.9,253.6 Q506.1,255.8 513.3,253.6" stroke-width="1.25"/>
<path d="M468.3,171.7 L469.4,176 V225.6 Q469.4,226.7 470.6,226.7 H525.5 Q526.7,226.7 526.7,225.6 V176 L527.4,171.7 Z" stroke-width="1.75" fill="#fff"/>
<line x1="469.4" y1="176.1" x2="526.7" y2="176.1" stroke-width="1.5"/>
<rect x="472.2" y="148" width="16.8" height="8.9" stroke-width="1.62" fill="#fff"/>
<path d="M471.4,148.4 V145.6 Q480.6,142.2 489.8,145.6 V148.4 Z" stroke-width="1.25" fill="#231815"/>
<rect x="462.7" y="157.6" width="69.8" height="14" rx="1.8" stroke-width="1.88" fill="#fff"/>
<line x1="465" y1="158.3" x2="465" y2="170.8" stroke-width="1.5"/>
<line x1="531.5" y1="158.3" x2="531.5" y2="170.8" stroke-width="1.5"/>
<line x1="472.7" y1="158" x2="472.7" y2="171" stroke-width="1.5"/>
<line x1="473.9" y1="158" x2="473.9" y2="171" stroke-width="1.5"/>
<line x1="489" y1="158" x2="489" y2="171" stroke-width="1.5"/>
<line x1="491.6" y1="158" x2="491.6" y2="171" stroke-width="1.5"/>
<line x1="506.2" y1="158" x2="506.2" y2="171" stroke-width="1.5"/>
<line x1="509.4" y1="158" x2="509.4" y2="171" stroke-width="1.5"/>
<line x1="523.2" y1="158" x2="523.2" y2="171" stroke-width="1.5"/>
<line x1="524.9" y1="158" x2="524.9" y2="171" stroke-width="1.5"/>
<rect x="476.7" y="541.5" width="41.6" height="6.2" rx="0.8" stroke-width="1.62" fill="#fff"/>
<line x1="479.4" y1="541.8" x2="479.4" y2="547.4" stroke-width="1.25"/>
<line x1="516.2" y1="541.8" x2="516.2" y2="547.4" stroke-width="1.25"/>
<line x1="496.6" y1="541.8" x2="496.6" y2="547.4" stroke-width="1.25"/>
<line x1="498.9" y1="541.8" x2="498.9" y2="547.4" stroke-width="1.25"/>
<rect x="479.4" y="547.7" width="36.2" height="7.7" stroke-width="1.62" fill="#fff"/>
<rect x="479.4" y="555.4" width="36.2" height="14.7" rx="1" stroke-width="1.62" fill="#fff"/>
<line x1="482.2" y1="556.3" x2="482.2" y2="569.4" stroke-width="1.25"/>
<line x1="513.3" y1="556.3" x2="513.3" y2="569.4" stroke-width="1.25"/>
<line x1="495.6" y1="556.3" x2="495.6" y2="569.4" stroke-width="1.25"/>
<line x1="498.9" y1="556.3" x2="498.9" y2="569.4" stroke-width="1.25"/>
<path d="M482.2,557.2 Q488.9,554.6 495.6,557.2 M498.9,557.2 Q506.1,554.6 513.3,557.2" stroke-width="1.25"/>
<path d="M482.2,568.4 Q488.9,570.6 495.6,568.4 M498.9,568.4 Q506.1,570.6 513.3,568.4" stroke-width="1.25"/>
<path d="M468.3,486.5 L469.4,490.8 V540.4 Q469.4,541.5 470.6,541.5 H525.5 Q526.7,541.5 526.7,540.4 V490.8 L527.4,486.5 Z" stroke-width="1.75" fill="#fff"/>
<line x1="469.4" y1="490.9" x2="526.7" y2="490.9" stroke-width="1.5"/>
<rect x="472.2" y="462.8" width="16.8" height="8.9" stroke-width="1.62" fill="#fff"/>
<path d="M471.4,463.2 V460.4 Q480.6,457 489.8,460.4 V463.2 Z" stroke-width="1.25" fill="#231815"/>
<rect x="462.7" y="472.4" width="69.8" height="14" rx="1.8" stroke-width="1.88" fill="#fff"/>
<line x1="465" y1="473.1" x2="465" y2="485.6" stroke-width="1.5"/>
<line x1="531.5" y1="473.1" x2="531.5" y2="485.6" stroke-width="1.5"/>
<line x1="472.7" y1="472.8" x2="472.7" y2="485.8" stroke-width="1.5"/>
<line x1="473.9" y1="472.8" x2="473.9" y2="485.8" stroke-width="1.5"/>
<line x1="489" y1="472.8" x2="489" y2="485.8" stroke-width="1.5"/>
<line x1="491.6" y1="472.8" x2="491.6" y2="485.8" stroke-width="1.5"/>
<line x1="506.2" y1="472.8" x2="506.2" y2="485.8" stroke-width="1.5"/>
<line x1="509.4" y1="472.8" x2="509.4" y2="485.8" stroke-width="1.5"/>
<line x1="523.2" y1="472.8" x2="523.2" y2="485.8" stroke-width="1.5"/>
<line x1="524.9" y1="472.8" x2="524.9" y2="485.8" stroke-width="1.5"/>
<rect x="477.2" y="316" width="41.1" height="10.1" rx="2" stroke-width="1.75" fill="#fff"/>
<rect x="486.7" y="317.3" width="2.7" height="7.7" stroke-width="1.38"/>
<rect x="507.8" y="317.3" width="2.2" height="7.7" stroke-width="1.38"/>
<path d="M481.7,326.1 V358.5 Q481.7,360.6 484.1,360.6 H511.1 L514.6,357 V326.1 Z" stroke-width="1.75" fill="#fff"/>
<line x1="482" y1="359.4" x2="512.1" y2="359.4" stroke-width="2.75"/>
<path d="M481.7,329 H495.6 Q500.6,329 503.6,327 H514.6" stroke-width="2.5"/>
<path d="M513.1,332 C505.6,338 505.6,348 511.6,356" stroke-width="1.62"/>
<rect x="488.3" y="361" width="18.4" height="6.8" rx="0.8" stroke-width="1.62" fill="#fff"/>
<line x1="493.3" y1="361.5" x2="493.3" y2="367.4" stroke-width="1.38"/>
<line x1="501.8" y1="361.5" x2="501.8" y2="367.4" stroke-width="1.38"/>
<path d="M492.2,367.8 V375.6 Q492.2,377.2 493.8,377.2 H501.4 Q503.2,377.2 503.2,375.6 V367.8 Z" stroke-width="1.62" fill="#fff"/>
<line x1="496.1" y1="368.5" x2="496.1" y2="376.5" stroke-width="1.25"/>
<line x1="499.2" y1="368.5" x2="499.2" y2="376.5" stroke-width="1.25"/>
<path d="M527.1,315.2 C528.6,309.5 532.1,308.2 535.6,308.4 C539.1,308.6 540,311 540,314 V326" stroke-width="1.5"/>
<path d="M530.1,315.2 C531.2,312.2 536.2,311.4 538,313.6" stroke-width="1.5"/>
<g transform="translate(530.9,343.6) rotate(15)">
<path d="M10.8,-3.6 H16.6 V12.6 H10.8" stroke-width="1.38" fill="#fff"/>
<line x1="13.9" y1="-3.6" x2="13.9" y2="12.6" stroke-width="1.38"/>
<rect x="-12.6" y="-27" width="8.2" height="47.2" rx="0.4" stroke-width="1.88" fill="#fff"/>
<line x1="-10.1" y1="-26.6" x2="-10.1" y2="19.8" stroke-width="2.12"/>
<line x1="-7.3" y1="-26.6" x2="-7.3" y2="19.8" stroke-width="2.12"/>
<path d="M-4.4,-14.6 L-2.6,-16.6 H5.6 L11.4,-23.4 L14.4,-22.2 L10.8,-2 V22.8 Q10.8,25.3 8.2,25.3 H-1.8 Q-4.4,25.3 -4.4,22.8 Z" stroke-width="2" fill="#fff"/>
<line x1="-3.4" y1="-15.6" x2="-3.4" y2="24.4" stroke-width="1.75"/>
<line x1="7" y1="-17.8" x2="7" y2="24.8" stroke-width="2.25"/>
<path d="M9.2,24.8 V-2 L12,-21.6" stroke-width="1.62"/>
<path d="M7.6,-18 L10,-21.4" stroke-width="2"/>
<rect x="-2.2" y="-18.9" width="7.8" height="3.2" rx="1.5" stroke-width="1.75"/>
<rect x="-2.2" y="-12" width="7.8" height="3.2" rx="1.5" stroke-width="1.75"/>
<rect x="-2.2" y="-5.1" width="7.8" height="3.2" rx="1.5" stroke-width="1.75"/>
<rect x="-2.2" y="1.8" width="7.8" height="3.2" rx="1.5" stroke-width="1.75"/>
<rect x="-2.2" y="8.7" width="7.8" height="3.2" rx="1.5" stroke-width="1.75"/>
<rect x="-2.2" y="15.6" width="7.8" height="3.2" rx="1.5" stroke-width="1.75"/>
<line x1="-3.6" y1="23.6" x2="7" y2="23.6" stroke-width="2"/>
</g>
<rect x="477.2" y="630.8" width="41.1" height="10.1" rx="2" stroke-width="1.75" fill="#fff"/>
<rect x="486.7" y="632.1" width="2.7" height="7.7" stroke-width="1.38"/>
<rect x="507.8" y="632.1" width="2.2" height="7.7" stroke-width="1.38"/>
<path d="M481.7,640.9 V673.3 Q481.7,675.4 484.1,675.4 H511.1 L514.6,671.8 V640.9 Z" stroke-width="1.75" fill="#fff"/>
<line x1="482" y1="674.2" x2="512.1" y2="674.2" stroke-width="2.75"/>
<path d="M481.7,643.8 H495.6 Q500.6,643.8 503.6,641.8 H514.6" stroke-width="2.5"/>
<path d="M513.1,646.8 C505.6,652.8 505.6,662.8 511.6,670.8" stroke-width="1.62"/>
<rect x="488.3" y="675.8" width="18.4" height="6.8" rx="0.8" stroke-width="1.62" fill="#fff"/>
<line x1="493.3" y1="676.3" x2="493.3" y2="682.2" stroke-width="1.38"/>
<line x1="501.8" y1="676.3" x2="501.8" y2="682.2" stroke-width="1.38"/>
<path d="M492.2,682.6 V690.4 Q492.2,692 493.8,692 H501.4 Q503.2,692 503.2,690.4 V682.6 Z" stroke-width="1.62" fill="#fff"/>
<line x1="496.1" y1="683.3" x2="496.1" y2="691.3" stroke-width="1.25"/>
<line x1="499.2" y1="683.3" x2="499.2" y2="691.3" stroke-width="1.25"/>
<path d="M527.1,630 C528.6,624.3 532.1,623 535.6,623.2 C539.1,623.4 540,625.8 540,628.8 V640.8" stroke-width="1.5"/>
<path d="M530.1,630 C531.2,627 536.2,626.2 538,628.4" stroke-width="1.5"/>
<g transform="translate(530.9,658.4) rotate(15)">
<path d="M10.8,-3.6 H16.6 V12.6 H10.8" stroke-width="1.38" fill="#fff"/>
<line x1="13.9" y1="-3.6" x2="13.9" y2="12.6" stroke-width="1.38"/>
<rect x="-12.6" y="-27" width="8.2" height="47.2" rx="0.4" stroke-width="1.88" fill="#fff"/>
<line x1="-10.1" y1="-26.6" x2="-10.1" y2="19.8" stroke-width="2.12"/>
<line x1="-7.3" y1="-26.6" x2="-7.3" y2="19.8" stroke-width="2.12"/>
<path d="M-4.4,-14.6 L-2.6,-16.6 H5.6 L11.4,-23.4 L14.4,-22.2 L10.8,-2 V22.8 Q10.8,25.3 8.2,25.3 H-1.8 Q-4.4,25.3 -4.4,22.8 Z" stroke-width="2" fill="#fff"/>
<line x1="-3.4" y1="-15.6" x2="-3.4" y2="24.4" stroke-width="1.75"/>
<line x1="7" y1="-17.8" x2="7" y2="24.8" stroke-width="2.25"/>
<path d="M9.2,24.8 V-2 L12,-21.6" stroke-width="1.62"/>
<path d="M7.6,-18 L10,-21.4" stroke-width="2"/>
<rect x="-2.2" y="-18.9" width="7.8" height="3.2" rx="1.5" stroke-width="1.75"/>
<rect x="-2.2" y="-12" width="7.8" height="3.2" rx="1.5" stroke-width="1.75"/>
<rect x="-2.2" y="-5.1" width="7.8" height="3.2" rx="1.5" stroke-width="1.75"/>
<rect x="-2.2" y="1.8" width="7.8" height="3.2" rx="1.5" stroke-width="1.75"/>
<rect x="-2.2" y="8.7" width="7.8" height="3.2" rx="1.5" stroke-width="1.75"/>
<rect x="-2.2" y="15.6" width="7.8" height="3.2" rx="1.5" stroke-width="1.75"/>
<line x1="-3.6" y1="23.6" x2="7" y2="23.6" stroke-width="2"/>
</g>
<line x1="586.1" y1="262.2" x2="586.1" y2="309.2" stroke-width="1.25"/>
<path d="M588.3,259.4 Q591.2,259.6 591.2,263 V308.4 Q591.2,311.6 588.3,311.8" stroke-width="1.12"/>
<rect x="611.2" y="260.6" width="15.8" height="50.2" rx="3" stroke-width="2.25" fill="#fff"/>
<line x1="613.8" y1="262.6" x2="626" y2="262.6" stroke-width="1.12"/>
<line x1="613.8" y1="308.6" x2="626" y2="308.6" stroke-width="1.12"/>
<path d="M627,255.6 C631,256 632.6,259 632.6,263 V308.6 C632.6,312.6 631,315.6 627,316.2 Z" stroke-width="1.75" fill="#fff"/>
<line x1="627.6" y1="256" x2="627.6" y2="316" stroke-width="2.75"/>
<line x1="584" y1="577.2" x2="584" y2="624.2" stroke-width="1.25"/>
<path d="M586.2,574.4 Q589.1,574.6 589.1,578 V623.4 Q589.1,626.6 586.2,626.8" stroke-width="1.12"/>
<rect x="613.4" y="575.6" width="15.8" height="50.2" rx="3" stroke-width="2.25" fill="#fff"/>
<line x1="616" y1="577.6" x2="628.2" y2="577.6" stroke-width="1.12"/>
<line x1="616" y1="623.6" x2="628.2" y2="623.6" stroke-width="1.12"/>
<path d="M629.2,570.6 C633.2,571 634.8,574 634.8,578 V623.6 C634.8,627.6 633.2,630.6 629.2,631.2 Z" stroke-width="1.75" fill="#fff"/>
<line x1="629.8" y1="571" x2="629.8" y2="631" stroke-width="2.75"/>
<path d="M679.6,181 Q679.6,179.6 681,179.6 H682.8 Q684.2,179.6 684.2,181 V208.6 Q684.2,211.2 686.4,212.1 L697.8,217.2 Q701.2,218.8 701.2,222.4 V340.4 Q701.2,344 697.9,345.4 L688.6,349.6 Q685.9,350.8 685.9,353.8 V430 H680.8 V353 Q680.8,347.6 685.4,345.6 L693.6,342.2 Q696.1,341.2 696.1,338.4 V224.6 Q696.1,221.6 693.4,220.4 L682.6,215.6 Q679.6,214.2 679.6,210.6 Z" stroke-width="1.5" fill="#fff"/>
<line x1="679.6" y1="194.4" x2="684.2" y2="194.4" stroke-width="1.12"/>
<rect x="688.8" y="233.8" width="6.9" height="9.2" rx="0.6" stroke-width="1.62" fill="#fff"/>
<rect x="688.8" y="326.4" width="6.9" height="9.2" rx="0.6" stroke-width="1.62" fill="#fff"/>
<path d="M702.1,171.8 L703.2,176.1 V225.7 Q703.2,226.8 704.4,226.8 H758.9 Q760.1,226.8 760.1,225.7 V176.1 L760.8,171.8 Z" stroke-width="1.75" fill="#fff"/>
<line x1="703.2" y1="176.2" x2="760.1" y2="176.2" stroke-width="1.5"/>
<rect x="723.7" y="148.1" width="16.8" height="8.9" stroke-width="1.62" fill="#fff"/>
<path d="M722.9,148.5 V145.7 Q732.1,142.3 741.3,145.7 V148.5 Z" stroke-width="1.25" fill="#231815"/>
<circle cx="732.4" cy="152.2" r="1.3" stroke-width="1.12"/>
<rect x="696.6" y="157.7" width="69.8" height="14" rx="1.8" stroke-width="1.88" fill="#fff"/>
<line x1="698.9" y1="158.4" x2="698.9" y2="170.9" stroke-width="1.5"/>
<line x1="765.4" y1="158.4" x2="765.4" y2="170.9" stroke-width="1.5"/>
<line x1="706.6" y1="158.1" x2="706.6" y2="171.1" stroke-width="1.5"/>
<line x1="707.8" y1="158.1" x2="707.8" y2="171.1" stroke-width="1.5"/>
<line x1="722.9" y1="158.1" x2="722.9" y2="171.1" stroke-width="1.5"/>
<line x1="725.5" y1="158.1" x2="725.5" y2="171.1" stroke-width="1.5"/>
<line x1="740.1" y1="158.1" x2="740.1" y2="171.1" stroke-width="1.5"/>
<line x1="743.3" y1="158.1" x2="743.3" y2="171.1" stroke-width="1.5"/>
<line x1="757.1" y1="158.1" x2="757.1" y2="171.1" stroke-width="1.5"/>
<line x1="758.8" y1="158.1" x2="758.8" y2="171.1" stroke-width="1.5"/>
<path d="M720.1,216.3 V175.9 Q720.1,173.4 722.6,173.4 H741.2 Q743.7,173.4 743.7,175.9 V216.3" stroke-width="1.38" fill="#fff"/>
<path d="M720.1,180.2 V175.9 Q720.1,173.4 722.6,173.4 H741.2 Q743.7,173.4 743.7,175.9 V180.2 Z" stroke-width="1.25" fill="#231815"/>
<path d="M722.6,179.8 L724,174.9 H725 L726.4,179.8 Z" fill="#fff" stroke="none"/>
<path d="M727.5,179.8 L728.9,174.9 H729.9 L731.3,179.8 Z" fill="#fff" stroke="none"/>
<path d="M732.4,179.8 L733.8,174.9 H734.8 L736.2,179.8 Z" fill="#fff" stroke="none"/>
<path d="M737.3,179.8 L738.7,174.9 H739.7 L741.1,179.8 Z" fill="#fff" stroke="none"/>
<line x1="729.5" y1="185.4" x2="729.5" y2="215.6" stroke-width="2.12" stroke-linecap="butt"/>
<line x1="729.5" y1="185.8" x2="734.3" y2="185.8" stroke-width="1.5"/>
<line x1="731.3" y1="188.2" x2="731.3" y2="215" stroke-width="2.75" stroke-dasharray="2.2 1.5" stroke-linecap="butt"/>
<text x="735.7" y="188.4" font-size="5.4" font-weight="bold" class="sans" text-anchor="middle">0</text>
<text x="735.7" y="195.1" font-size="5.4" font-weight="bold" class="sans" text-anchor="middle">1</text>
<text x="735.7" y="201.8" font-size="5.4" font-weight="bold" class="sans" text-anchor="middle">2</text>
<text x="735.7" y="208.5" font-size="5.4" font-weight="bold" class="sans" text-anchor="middle">3</text>
<text x="735.7" y="215.2" font-size="5.4" font-weight="bold" class="sans" text-anchor="middle">4</text>
<rect x="724.7" y="205.2" width="3.7" height="10.6" fill="#231815" stroke="none"/>
<rect x="718.2" y="216.9" width="26.9" height="10.7" rx="1.2" stroke-width="1.5" fill="#fff"/>
<line x1="718.2" y1="217.3" x2="745.1" y2="217.3" stroke-width="2"/>
<rect x="720.5" y="221.6" width="9.8" height="2.6" rx="0.9" stroke-width="1.5"/>
<rect x="733.5" y="221.8" width="9.8" height="2.2" rx="0.9" stroke-width="1.5"/>
<line x1="732.5" y1="219.4" x2="744.5" y2="219.4" stroke-width="1.12"/>
<line x1="719.5" y1="226" x2="730.7" y2="226" stroke-width="1.12"/>
<rect x="710.6" y="228.2" width="43.6" height="14.2" rx="1.2" stroke-width="1.88" fill="#fff"/>
<path d="M709.6,242.4 V253 M755.2,242.4 V253" stroke-width="1.5"/>
<line x1="712.6" y1="229" x2="712.6" y2="249.4" stroke-width="2.12"/>
<line x1="730.6" y1="229" x2="730.6" y2="249.4" stroke-width="2.12"/>
<line x1="750.6" y1="229" x2="750.6" y2="249.4" stroke-width="2.12"/>
<path d="M705.2,229 V247.6 Q705.2,253.2 710.8,253.2 H735 Q748,253.6 762,256.4" stroke-width="1.5"/>
<path d="M708.6,229 V246.6 Q708.6,250.6 712.4,250.6" stroke-width="1.25"/>
<path d="M705.2,343.6 V323.4 Q705.2,317.8 710.8,317.8 H735 Q748,317.4 762,314.6" stroke-width="1.5"/>
<path d="M708.6,342 V324.2 Q708.6,320.4 712.4,320.4" stroke-width="1.25"/>
<path d="M701,254.8 L704.4,257.6 M701,316.4 L704.4,313.4" stroke-width="1.12"/>
<rect x="701.9" y="255" width="61.4" height="60.6" rx="4.5" stroke-width="1.62" fill="#fff"/>
<rect x="705.1" y="257.9" width="56" height="55" rx="4" stroke-width="1"/>
<circle cx="732.5" cy="285.5" r="27.1" stroke-width="3.5" fill="#fff"/>
<circle cx="732.5" cy="285.5" r="24.9" stroke-width="1"/>
<circle cx="732.5" cy="285.5" r="23.6" stroke-width="1.25"/>
<line x1="718.8" y1="264.5" x2="745.8" y2="264.5" stroke-width="1"/>
<rect x="720" y="267.9" width="22.1" height="19.2" stroke-width="1.5" fill="#fff"/>
<line x1="717.9" y1="267.3" x2="744.7" y2="267.3" stroke-width="1.25"/>
<rect x="722.7" y="271.3" width="12.2" height="3.6" rx="0.6" fill="#5d5451" stroke="#231815" stroke-width="1.1"/>
<path d="M742.1,271.1 H738.5 V275.1 H742.1" stroke-width="1.5"/>
<line x1="722.7" y1="276.1" x2="735.9" y2="276.1" stroke-width="1.12"/>
<path d="M720,287.1 L718.5,294.1 H743.9 L742.1,287.1 Z" stroke-width="1.5" fill="#fff"/>
<line x1="719.3" y1="290.1" x2="743.1" y2="290.1" stroke-width="1.12"/>
<path d="M718.5,294.1 L717.9,300.7 H744.7 L743.9,294.1" stroke-width="1.5" fill="#fff"/>
<line x1="716.8" y1="303.9" x2="745.8" y2="303.9" stroke-width="1"/>
<rect x="709.5" y="317.6" width="44" height="6.8" rx="1.5" stroke-width="1.62" fill="#fff"/>
<line x1="711.7" y1="318.4" x2="711.7" y2="323.8" stroke-width="1.25"/>
<line x1="713.7" y1="318.4" x2="713.7" y2="323.8" stroke-width="1.25"/>
<line x1="728.7" y1="318.4" x2="728.7" y2="323.8" stroke-width="1.25"/>
<line x1="730.7" y1="318.4" x2="730.7" y2="323.8" stroke-width="1.25"/>
<line x1="735.7" y1="318.4" x2="735.7" y2="323.8" stroke-width="1.25"/>
<line x1="749.7" y1="318.4" x2="749.7" y2="323.8" stroke-width="1.25"/>
<line x1="752.3" y1="318.4" x2="752.3" y2="323.8" stroke-width="1.25"/>
<rect x="713.9" y="324.4" width="37.8" height="15.2" rx="1" stroke-width="1.62" fill="#fff"/>
<line x1="713.9" y1="329" x2="751.7" y2="329" stroke-width="2"/>
<path d="M710.2,339.6 Q709,343 709.4,346.5 A22.4,23.6 0 0 0 725.8,369.3 H737.8 A22.4,23.6 0 0 0 754.2,346.5 Q754.6,343 753.4,339.6 Z" stroke-width="2.88" fill="#fff"/>
<path d="M712.2,342 Q711.4,344 711.8,347 A20,21 0 0 0 725.8,367 M751.4,342 Q752.2,344 751.8,347 A20,21 0 0 1 737.8,367" stroke-width="2.25"/>
<path d="M714.2,342 Q714.2,355 722.8,362.6 M749.4,342 Q749.4,355 740.8,362.6" stroke-width="1.88"/>
<rect x="717.1" y="340.4" width="30.8" height="17.8" stroke-width="1.75" fill="#fff"/>
<line x1="720.3" y1="361.2" x2="744.3" y2="361.2" stroke-width="1.38"/>
<rect x="725.3" y="362.4" width="14" height="5.2" stroke-width="1.5" fill="#fff"/>
<line x1="730.7" y1="362.6" x2="730.7" y2="367.4" stroke-width="1.25"/>
<line x1="733.5" y1="362.6" x2="733.5" y2="367.4" stroke-width="1.25"/>
<path d="M727.3,367.8 V375.4 Q727.3,376.8 728.7,376.8 H735.9 Q737.3,376.8 737.3,375.4 V367.8 Z" stroke-width="1.62" fill="#fff"/>
<line x1="731.1" y1="368.5" x2="731.1" y2="376" stroke-width="1.25"/>
<line x1="733.6" y1="368.5" x2="733.6" y2="376" stroke-width="1.25"/>
<path d="M705.2,325 V342.8 Q705.2,344.6 706.9,344.6 Q708.6,344.6 708.6,342.8 V325" stroke-width="1.38" fill="#fff"/>
<rect x="680.9" y="400" width="5" height="133.6" rx="0.6" stroke-width="1.5" fill="#fff"/>
<path d="M685.9,417.2 H690.4 V518.4 Q690.4,521 692.9,521.7 L740.4,535.2 Q747,537.2 747,543.6 V652.6 Q747,657 742.8,658.4 L688.8,673.4 Q684.7,674.6 684.7,678.6 V705.2 Q684.7,706.6 683.3,706.6 H681.2 Q679.8,706.6 679.8,705.2 V677.2 Q679.8,671.6 685.2,670 L738.8,655.2 Q742.2,654.2 742.2,650.8 V546 Q742.2,541.4 738,540 L689.4,526 Q685.9,525 685.9,521.4 Z" stroke-width="1.5" fill="#fff"/>
<line x1="685.9" y1="417.2" x2="685.9" y2="533.6" stroke-width="1.5"/>
<line x1="679.8" y1="690.6" x2="684.7" y2="690.6" stroke-width="1.12"/>
<line x1="680.9" y1="518.4" x2="685.9" y2="518.4" stroke-width="1"/>
<path d="M680.9,430.6 L679.6,430.9 Q677.3,434.2 677.3,438.6 Q677.3,443 679.6,446.3 L680.9,446.6 Z" stroke-width="1.5" fill="#4a403d"/>
<path d="M690.4,430.6 H692.8 Q695.6,434.2 695.6,438.6 Q695.6,443 692.8,446.6 H690.4 Z" stroke-width="1.62" fill="#fff"/>
<line x1="692.3" y1="431.8" x2="692.3" y2="445.4" stroke-width="1"/>
<line x1="693.8" y1="433.2" x2="693.8" y2="444" stroke-width="1"/>
<path d="M680.9,472.6 L679.6,472.9 Q677.3,476.2 677.3,480.6 Q677.3,485 679.6,488.3 L680.9,488.6 Z" stroke-width="1.5" fill="#4a403d"/>
<path d="M690.4,472.6 H692.8 Q695.6,476.2 695.6,480.6 Q695.6,485 692.8,488.6 H690.4 Z" stroke-width="1.62" fill="#fff"/>
<line x1="692.3" y1="473.8" x2="692.3" y2="487.4" stroke-width="1"/>
<line x1="693.8" y1="475.2" x2="693.8" y2="486" stroke-width="1"/>
<rect x="734.6" y="550.2" width="7.4" height="8.8" rx="0.6" stroke-width="1.62" fill="#fff"/>
<rect x="734.6" y="641.6" width="7.4" height="8.8" rx="0.6" stroke-width="1.62" fill="#fff"/>
<path d="M747.8,486.5 L748.9,490.8 V540.4 Q748.9,541.5 750.1,541.5 H804.7 Q805.9,541.5 805.9,540.4 V490.8 L806.6,486.5 Z" stroke-width="1.75" fill="#fff"/>
<line x1="748.9" y1="490.9" x2="805.9" y2="490.9" stroke-width="1.5"/>
<rect x="768.9" y="462.8" width="16.8" height="8.9" stroke-width="1.62" fill="#fff"/>
<path d="M768.1,463.2 V460.4 Q777.3,457 786.5,460.4 V463.2 Z" stroke-width="1.25" fill="#231815"/>
<circle cx="777.6" cy="466.9" r="1.3" stroke-width="1.12"/>
<rect x="742.4" y="472.4" width="69.8" height="14" rx="1.8" stroke-width="1.88" fill="#fff"/>
<line x1="744.7" y1="473.1" x2="744.7" y2="485.6" stroke-width="1.5"/>
<line x1="811.2" y1="473.1" x2="811.2" y2="485.6" stroke-width="1.5"/>
<line x1="752.4" y1="472.8" x2="752.4" y2="485.8" stroke-width="1.5"/>
<line x1="753.6" y1="472.8" x2="753.6" y2="485.8" stroke-width="1.5"/>
<line x1="768.7" y1="472.8" x2="768.7" y2="485.8" stroke-width="1.5"/>
<line x1="771.3" y1="472.8" x2="771.3" y2="485.8" stroke-width="1.5"/>
<line x1="785.9" y1="472.8" x2="785.9" y2="485.8" stroke-width="1.5"/>
<line x1="789.1" y1="472.8" x2="789.1" y2="485.8" stroke-width="1.5"/>
<line x1="802.9" y1="472.8" x2="802.9" y2="485.8" stroke-width="1.5"/>
<line x1="804.6" y1="472.8" x2="804.6" y2="485.8" stroke-width="1.5"/>
<path d="M750.9,544 C754,532 755.7,516 756,505.2 Q756.1,502 759.3,502 H795.7 Q798.9,502 799,505.2 C799.3,516 801,532 804.1,544 Z" stroke-width="1.75" fill="#fff"/>
<line x1="756.2" y1="506.4" x2="798.8" y2="506.4" stroke-width="1.25"/>
<path d="M750.1,544 C749.3,550 749.9,560 751.3,570 H803.7 C805.1,560 805.7,550 804.9,544 Z" stroke-width="1.75" fill="#fff"/>
<line x1="750.9" y1="543.4" x2="803.9" y2="543.4" stroke-width="2.5"/>
<line x1="749.9" y1="554.4" x2="805.1" y2="554.4" stroke-width="1.62"/>
<path d="M769.9,509 Q769.9,503.9 775.1,503.9 H779.3 Q784.3,503.9 784.3,509 V536 A7.2,6.4 0 0 1 769.9,536 Z" stroke-width="1.62" fill="#fff"/>
<line x1="769.9" y1="535.8" x2="784.3" y2="535.8" stroke-width="1.25"/>
<path d="M753.4,546.6 H755.6 Q760.2,554.6 755.6,562.6 H753.4 Z" stroke-width="1.62" fill="#fff"/>
<path d="M750.2,545 V562.6 Q750.2,568.4 756,568.4 H780.5 Q793.5,568.8 807.5,571.4" stroke-width="1.5"/>
<path d="M747,569.6 L750.4,572.4 M747,631.4 L750.4,628.6" stroke-width="1.12"/>
<path d="M750.2,657.6 V638.6 Q750.2,633.0 756,633.0 H780.5 Q793.5,632.6 807.5,629.6" stroke-width="1.5"/>
<path d="M753.8,657 V639.4 Q753.8,635.6 757.6,635.6" stroke-width="1.25"/>
<rect x="747.2" y="569.9" width="61.4" height="60.6" rx="4.5" stroke-width="1.62" fill="#fff"/>
<rect x="750.4" y="572.8" width="56" height="55" rx="4" stroke-width="1"/>
<circle cx="777.8" cy="600.4" r="27.1" stroke-width="3.5" fill="#fff"/>
<circle cx="777.8" cy="600.4" r="24.9" stroke-width="1"/>
<circle cx="777.8" cy="600.4" r="23.6" stroke-width="1.25"/>
<path d="M761.9,582.8 A23.5,23.5 0 0 1 793.1,582.8 L789.5,585.4 H765.5 Z" fill="#231815" stroke="none"/>
<path d="M767.3,587 H786.1 Q785.5,590.2 781.5,590.4 H771.9 Q767.9,590.2 767.3,587 Z" stroke-width="1.38" fill="#fff"/>
<rect x="773.9" y="590.4" width="6.8" height="6.4" stroke-width="1.38" fill="#fff"/>
<path d="M770.9,612 V599 Q770.9,596.8 773.1,596.8 H781.9 Q783.9,596.8 783.9,599 V612" stroke-width="1.62" fill="#fff"/>
<rect x="766.1" y="612" width="22.8" height="4" stroke-width="1.62" fill="#fff"/>
<line x1="763" y1="618" x2="792" y2="618" stroke-width="1.12"/>
<rect x="754.9" y="632.5" width="44" height="6.8" rx="1.5" stroke-width="1.62" fill="#fff"/>
<line x1="757.1" y1="633.3" x2="757.1" y2="638.7" stroke-width="1.25"/>
<line x1="759.1" y1="633.3" x2="759.1" y2="638.7" stroke-width="1.25"/>
<line x1="774.1" y1="633.3" x2="774.1" y2="638.7" stroke-width="1.25"/>
<line x1="776.1" y1="633.3" x2="776.1" y2="638.7" stroke-width="1.25"/>
<line x1="781.1" y1="633.3" x2="781.1" y2="638.7" stroke-width="1.25"/>
<line x1="795.1" y1="633.3" x2="795.1" y2="638.7" stroke-width="1.25"/>
<line x1="797.7" y1="633.3" x2="797.7" y2="638.7" stroke-width="1.25"/>
<rect x="759.3" y="639.3" width="37.8" height="15.2" rx="1" stroke-width="1.62" fill="#fff"/>
<line x1="759.3" y1="643.9" x2="797.1" y2="643.9" stroke-width="2"/>
<path d="M755.6,654.5 Q754.4,657.9 754.8,661.4 A22.4,23.6 0 0 0 771.2,684.2 H783.2 A22.4,23.6 0 0 0 799.6,661.4 Q800,657.9 798.8,654.5 Z" stroke-width="2.88" fill="#fff"/>
<path d="M757.6,656.9 Q756.8,658.9 757.2,661.9 A20,21 0 0 0 771.2,681.9 M796.8,656.9 Q797.6,658.9 797.2,661.9 A20,21 0 0 1 783.2,681.9" stroke-width="2.25"/>
<path d="M759.6,656.9 Q759.6,669.9 768.2,677.5 M794.8,656.9 Q794.8,669.9 786.2,677.5" stroke-width="1.88"/>
<rect x="762.5" y="655.3" width="30.8" height="17.8" stroke-width="1.75" fill="#fff"/>
<line x1="765.7" y1="676.1" x2="789.7" y2="676.1" stroke-width="1.38"/>
<rect x="770.7" y="677.3" width="14" height="5.2" stroke-width="1.5" fill="#fff"/>
<line x1="776.1" y1="677.5" x2="776.1" y2="682.3" stroke-width="1.25"/>
<line x1="778.9" y1="677.5" x2="778.9" y2="682.3" stroke-width="1.25"/>
<path d="M772.7,682.7 V690.3 Q772.7,691.7 774.1,691.7 H781.3 Q782.7,691.7 782.7,690.3 V682.7 Z" stroke-width="1.62" fill="#fff"/>
<line x1="776.5" y1="683.4" x2="776.5" y2="690.9" stroke-width="1.25"/>
<line x1="779" y1="683.4" x2="779" y2="690.9" stroke-width="1.25"/>
<path d="M750.2,640 V656.6 Q750.2,658.4 752,658.4 Q753.8,658.4 753.8,656.6 V640" stroke-width="1.38" fill="#fff"/>
<line x1="110.8" y1="285.6" x2="201.2" y2="285.6" stroke-width="1.27" stroke-linecap="butt"/>
<line x1="110.8" y1="600.4" x2="201.2" y2="600.4" stroke-width="1.27" stroke-linecap="butt"/>
<line x1="115.1" y1="285.6" x2="115.1" y2="600.4" stroke-width="1.27" stroke-linecap="butt"/>
<path d="M0,0 L-10.6,-1.65 L-10.6,1.65 Z" transform="translate(115.1,285.6) rotate(-90)" fill="#231815" stroke="none"/>
<path d="M0,0 L-10.6,-1.65 L-10.6,1.65 Z" transform="translate(115.1,600.4) rotate(90)" fill="#231815" stroke="none"/>
<text transform="translate(104.8,445.2) rotate(-90)" font-size="23.4" letter-spacing="-0.42" class="sans" text-anchor="middle">B=170-230</text>
<line x1="201.5" y1="696" x2="201.5" y2="755.5" stroke-width="1.27" stroke-linecap="butt"/>
<line x1="565.3" y1="696" x2="565.3" y2="755.5" stroke-width="1.27" stroke-linecap="butt"/>
<line x1="201.5" y1="748.9" x2="565.3" y2="748.9" stroke-width="1.27" stroke-linecap="butt"/>
<path d="M0,0 L-10.6,-1.65 L-10.6,1.65 Z" transform="translate(201.5,748.9) rotate(180)" fill="#231815" stroke="none"/>
<path d="M0,0 L-10.6,-1.65 L-10.6,1.65 Z" transform="translate(565.3,748.9) rotate(0)" fill="#231815" stroke="none"/>
<text x="378.6" y="740.2" font-size="24.4" class="sans" text-anchor="middle">A</text>
<line x1="248.4" y1="343.5" x2="248.4" y2="392.8" stroke-width="1.27" stroke-linecap="butt"/>
<line x1="288.8" y1="343.5" x2="288.8" y2="392.8" stroke-width="1.27" stroke-linecap="butt"/>
<line x1="248.4" y1="388.7" x2="288.8" y2="388.7" stroke-width="1.27" stroke-linecap="butt"/>
<path d="M0,0 L-10.6,-1.65 L-10.6,1.65 Z" transform="translate(248.4,388.7) rotate(180)" fill="#231815" stroke="none"/>
<path d="M0,0 L-10.6,-1.65 L-10.6,1.65 Z" transform="translate(288.8,388.7) rotate(0)" fill="#231815" stroke="none"/>
<text x="268.5" y="385.8" font-size="16.2" class="serif" text-anchor="middle">G3/4</text>
<line x1="345.1" y1="343.5" x2="345.1" y2="398.6" stroke-width="1.27" stroke-linecap="butt"/>
<line x1="421.8" y1="343.5" x2="421.8" y2="398.6" stroke-width="1.27" stroke-linecap="butt"/>
<line x1="345.1" y1="393.8" x2="421.8" y2="393.8" stroke-width="1.27" stroke-linecap="butt"/>
<path d="M0,0 L-10.6,-1.65 L-10.6,1.65 Z" transform="translate(345.1,393.8) rotate(180)" fill="#231815" stroke="none"/>
<path d="M0,0 L-10.6,-1.65 L-10.6,1.65 Z" transform="translate(421.8,393.8) rotate(0)" fill="#231815" stroke="none"/>
<text x="383.4" y="390.7" font-size="16.2" class="serif" text-anchor="middle">50</text>
<line x1="679.8" y1="706.6" x2="679.8" y2="757.6" stroke-width="1.27" stroke-linecap="butt"/>
<line x1="812.2" y1="486" x2="812.2" y2="757.6" stroke-width="1.27" stroke-linecap="butt"/>
<line x1="679.8" y1="753" x2="812.2" y2="753" stroke-width="1.27" stroke-linecap="butt"/>
<path d="M0,0 L-10.6,-1.65 L-10.6,1.65 Z" transform="translate(679.8,753) rotate(180)" fill="#231815" stroke="none"/>
<path d="M0,0 L-10.6,-1.65 L-10.6,1.65 Z" transform="translate(812.2,753) rotate(0)" fill="#231815" stroke="none"/>
<text x="729.4 737.1 745.6 753.6" y="750.7" font-size="16.6" class="serif">86.5</text>
</svg>
</body>
</html>
